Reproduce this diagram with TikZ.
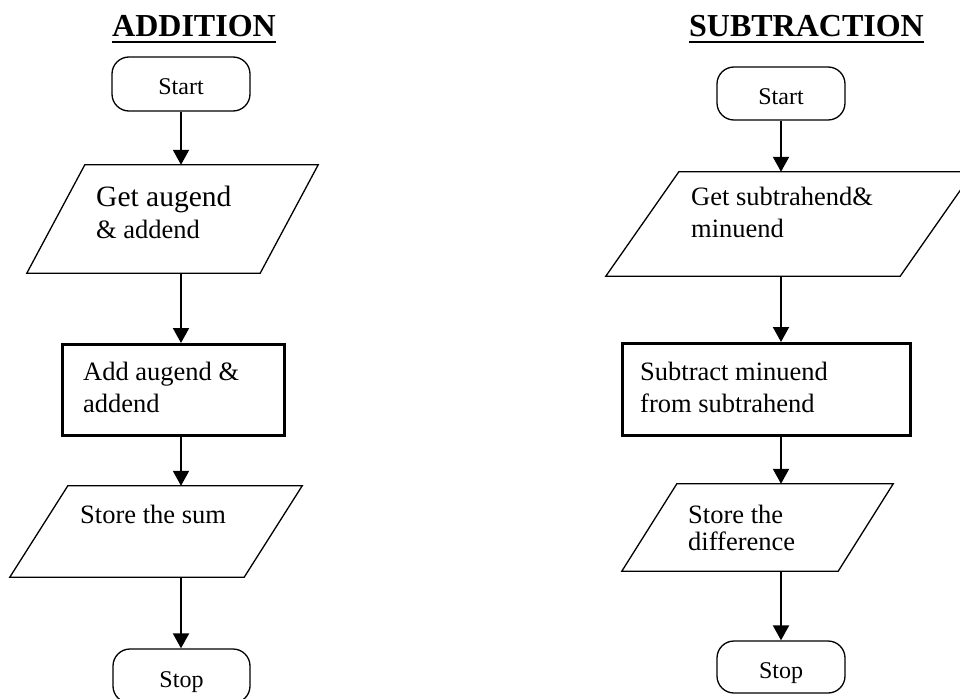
\documentclass[tikz,border=0pt]{standalone}
\usepackage{fontspec}
\setmainfont{Liberation Serif}
\usetikzlibrary{arrows.meta}

\begin{document}
\begin{tikzpicture}[x=1pt,y=-1pt]
            \tikzstyle{every node}+=[inner sep=0pt]
            \tikzstyle{term}=[draw,black,line width=1.3pt,rounded corners=17pt,text height=22pt,text depth=0pt,font=\fontsize{24}{28}\selectfont]
            \tikzstyle{proc}=[draw,black,line width=3pt]
            \tikzstyle{io}=[black,line width=1.3pt]
            \tikzstyle{txt}=[anchor=base west,align=left,font=\fontsize{26.5}{32}\selectfont]
            \tikzstyle{ttl}=[anchor=base,font=\fontsize{32}{36}\selectfont\bfseries]
            \tikzstyle{flow}=[black,line width=2pt,-{Triangle[length=15pt,width=16pt]}]
            \useasboundingbox (0,0) rectangle (960,698);
            \node[ttl] (ttl1) at (194,37) {ADDITION};
            \draw[line width=2.5pt] ([yshift=-5pt]ttl1.base west) -- ([yshift=-5pt]ttl1.base east);
            \node[term,minimum width=138pt,minimum height=54pt] (st1) at (181,84) {Start};
            \node[minimum width=291pt,minimum height=108pt] (io1) at (172.5,219) {};
            \draw[io] ([xshift=58pt]io1.north west) -- (io1.north east) -- ([xshift=-58pt]io1.south east) -- (io1.south west) -- cycle;
            \node[txt] (gt1) at (96,238) {{\fontsize{29.5}{33}\selectfont Get augend}\\\& addend};
            \node[proc,minimum width=222pt,minimum height=91pt] (pr1) at (173.5,390) {};
            \node[txt] (ad1) at (83,412) {Add augend \&\\addend};
            \node[minimum width=292pt,minimum height=91pt] (io2) at (156,531.5) {};
            \draw[io] ([xshift=58pt]io2.north west) -- (io2.north east) -- ([xshift=-58pt]io2.south east) -- (io2.south west) -- cycle;
            \node[txt] (ss1) at (80,523) {Store the sum};
            \node[term,minimum width=137pt,minimum height=54pt] (sp1) at (181.5,676) {Stop};
            \draw[flow] (st1.south) -- (st1.south |- io1.north);
            \draw[flow] (st1.south |- io1.south) -- (st1.south |- pr1.north);
            \draw[flow] (st1.south |- pr1.south) -- (st1.south |- io2.north);
            \draw[flow] (st1.south |- io2.south) -- (st1.south |- sp1.north);
            \node[ttl] (ttl2) at (806.5,37) {SUBTRACTION};
            \draw[line width=2.5pt] ([yshift=-5pt]ttl2.base west) -- ([yshift=-5pt]ttl2.base east);
            \node[term,minimum width=128pt,minimum height=53pt] (st2) at (781,93.5) {Start};
            \node[minimum width=367pt,minimum height=104pt] (io3) at (789.5,224) {};
            \draw[io] ([xshift=73pt]io3.north west) -- (io3.north east) -- ([xshift=-73pt]io3.south east) -- (io3.south west) -- cycle;
            \node[txt] (gt2) at (691,237) {Get subtrahend\&\\minuend};
            \node[proc,minimum width=288pt,minimum height=92pt] (pr2) at (766.5,389.5) {};
            \node[txt] (sb2) at (640,412) {Subtract minuend\\from subtrahend};
            \node[minimum width=271pt,minimum height=87pt] (io4) at (757.5,527.5) {};
            \draw[io] ([xshift=55pt]io4.north west) -- (io4.north east) -- ([xshift=-55pt]io4.south east) -- (io4.south west) -- cycle;
            \node[txt,font=\fontsize{26.5}{27}\selectfont] (sd2) at (688,550) {Store the\\difference};
            \node[term,minimum width=128pt,minimum height=52pt] (sp2) at (781,667) {Stop};
            \draw[flow] (st2.south) -- (st2.south |- io3.north);
            \draw[flow] (st2.south |- io3.south) -- (st2.south |- pr2.north);
            \draw[flow] (st2.south |- pr2.south) -- (st2.south |- io4.north);
            \draw[flow] (st2.south |- io4.south) -- (st2.south |- sp2.north);
\end{tikzpicture}
\end{document}
